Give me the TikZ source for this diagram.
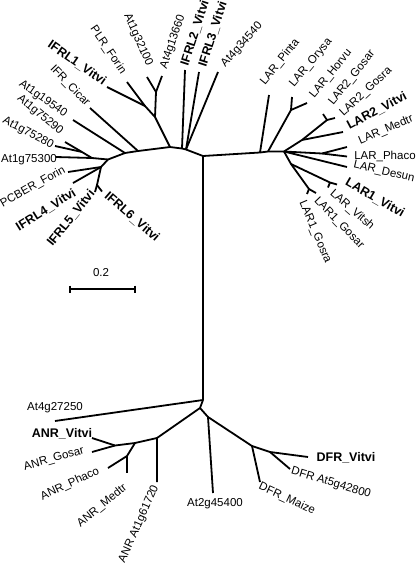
\documentclass[tikz,border=0pt]{standalone}
\usepackage{fontspec}
\setmainfont{Liberation Sans}
\begin{document}
\begin{tikzpicture}[x=1pt,y=-1pt,
  br/.style={line width=1.8pt},
  lab/.style={inner sep=0pt,font=\fontsize{11.5}{13}\selectfont},
  blab/.style={inner sep=0pt,font=\fontsize{12.5}{14}\selectfont\bfseries}]
\useasboundingbox (0,0) rectangle (416,568);
% ---- trunk
\coordinate (A) at (203,156);
\coordinate (B) at (203,400);
% ---- upper left clade
\coordinate (S2) at (186,149.5);
\coordinate (S1) at (182,148.5);
\coordinate (R) at (170,147);
\coordinate (T) at (138,151);
\coordinate (U) at (125,153);
\coordinate (X) at (108,159.5);
\coordinate (Y1) at (101,167);
\coordinate (P) at (155,117);
\coordinate (Q) at (145,106);
\coordinate (Yn) at (156,92);
\coordinate (W) at (92,158);
\coordinate (V) at (82,152);
\coordinate (Z) at (97,185);
\coordinate (tIFRL2) at (185,70);
\coordinate (tIFRL3) at (199,72);
\coordinate (tAt4g34540) at (218,72);
\coordinate (tPLR) at (127,82);
\coordinate (tIFRL1) at (107,87);
\coordinate (tAt1g32100) at (147,77);
\coordinate (tAt4g13660) at (162,76);
\coordinate (tIFR) at (90,108);
\coordinate (tAt1g19540) at (73,120);
\coordinate (tAt1g75290) at (65,142);
\coordinate (tAt1g75280) at (55,146);
\coordinate (tAt1g75300) at (56,157);
\coordinate (tPCBER) at (68,172);
\coordinate (tIFRL4) at (73,183);
\coordinate (tIFRL5) at (95,192);
\coordinate (tIFRL6) at (102,191.5);
% ---- right clade
\coordinate (L1) at (260,152.5);
\coordinate (L2) at (268,151.5);
\coordinate (L3) at (284,151.5);
\coordinate (O) at (291,110);
\coordinate (M1) at (302,140);
\coordinate (Yg) at (327,120);
\coordinate (M2) at (322,153.5);
\coordinate (N1) at (291,164);
\coordinate (Yv) at (330,182.5);
\coordinate (Yr) at (309,189);
\coordinate (tPinta) at (269,95);
\coordinate (tOrysa) at (292,97);
\coordinate (tHorvu) at (307,103);
\coordinate (tGosarB) at (323,114);
\coordinate (tGosraB) at (335,118);
\coordinate (tVitviB) at (343,132);
\coordinate (tMedtr) at (347,147);
\coordinate (tPhaco) at (347,156.5);
\coordinate (tDesun) at (347,167);
\coordinate (tVitviA) at (337,184.5);
\coordinate (tVitsh) at (328,187.5);
\coordinate (tGosarA) at (316,193);
\coordinate (tGosraA) at (307,194);
% ---- bottom clade
\coordinate (C) at (200,408);
\coordinate (N1a) at (157,438);
\coordinate (N2a) at (135,443);
\coordinate (N3a) at (115,445.5);
\coordinate (N4a) at (127,456);
\coordinate (D) at (208,417);
\coordinate (E) at (252,446);
\coordinate (F) at (270,452);
\coordinate (tAt4g27250) at (55,421);
\coordinate (tAt1g61720) at (157,482);
\coordinate (tANRVitvi) at (92,438);
\coordinate (tANRGosar) at (92,452);
\coordinate (tANRPhaco) at (108,468);
\coordinate (tANRMedtr) at (127,473);
\coordinate (tAt2g45400) at (213,493);
\coordinate (tMaize) at (260,482);
\coordinate (tDFRVitvi) at (308,457);
\coordinate (tAt5g42800) at (290,469);
% ---- scale bar
\coordinate (sbL) at (70,289);
\coordinate (sbR) at (135,289);

% ---- branches
\draw[br] (A) -- (B);
\draw[br] (A) -- (S2) -- (S1) -- (R) -- (T) -- (U) -- (X) -- (Y1);
\draw[br] (S1) -- (tIFRL2);
\draw[br] (S2) -- (tIFRL3);
\draw[br] (S2) -- (tAt4g34540);
\draw[br] (R) -- (P) -- (Q) -- (tPLR);
\draw[br] (Q) -- (tIFRL1);
\draw[br] (P) -- (Yn) -- (tAt1g32100);
\draw[br] (Yn) -- (tAt4g13660);
\draw[br] (T) -- (tIFR);
\draw[br] (U) -- (tAt1g19540);
\draw[br] (X) -- (W) -- (tAt1g75300);
\draw[br] (W) -- (V) -- (tAt1g75290);
\draw[br] (V) -- (tAt1g75280);
\draw[br] (Y1) -- (tPCBER);
\draw[br] (Y1) -- (tIFRL4);
\draw[br] (Y1) -- (Z) -- (tIFRL5);
\draw[br] (Z) -- (tIFRL6);
\draw[br] (A) -- (L1) -- (L2) -- (L3);
\draw[br] (L1) -- (tPinta);
\draw[br] (L2) -- (O) -- (tOrysa);
\draw[br] (O) -- (tHorvu);
\draw[br] (L3) -- (M1) -- (Yg) -- (tGosarB);
\draw[br] (Yg) -- (tGosraB);
\draw[br] (M1) -- (tVitviB);
\draw[br] (L3) -- (M2) -- (tPhaco);
\draw[br] (M2) -- (tMedtr);
\draw[br] (L3) -- (tDesun);
\draw[br] (L3) -- (N1) -- (Yr) -- (tGosarA);
\draw[br] (Yr) -- (tGosraA);
\draw[br] (N1) -- (Yv) -- (tVitviA);
\draw[br] (Yv) -- (tVitsh);
\draw[br] (B) -- (tAt4g27250);
\draw[br] (B) -- (C) -- (N1a) -- (tAt1g61720);
\draw[br] (N1a) -- (N2a) -- (N3a) -- (tANRVitvi);
\draw[br] (N3a) -- (tANRGosar);
\draw[br] (N2a) -- (N4a) -- (tANRPhaco);
\draw[br] (N4a) -- (tANRMedtr);
\draw[br] (C) -- (D) -- (tAt2g45400);
\draw[br] (D) -- (E) -- (tMaize);
\draw[br] (E) -- (F) -- (tDFRVitvi);
\draw[br] (F) -- (tAt5g42800);
\draw[br] (sbL) -- (sbR);
\draw[br] ([yshift=3.5pt]sbL) -- ([yshift=-3.5pt]sbL);
\draw[br] ([yshift=3.5pt]sbR) -- ([yshift=-3.5pt]sbR);

% ---- labels
\node[blab,rotate=-35] (lIFRL1) at (77,63) {IFRL1\_Vitvi};
\node[lab,rotate=-56] (lPLR) at (108,50) {PLR\_Forin};
\node[lab,rotate=-66] (lAt1g32100) at (138,40) {At1g32100};
\node[lab,rotate=71] (lAt4g13660) at (173,42) {At4g13660};
\node[blab,rotate=72] (lIFRL2) at (195,33) {IFRL2\_Vitvi};
\node[blab,rotate=72] (lIFRL3) at (213,34) {IFRL3\_Vitvi};
\node[lab,rotate=48] (lAt4g34540) at (242,45) {At4g34540};
\node[lab,rotate=-46] (lIFR) at (70,86) {IFR\_Cicar};
\node[lab,rotate=-35] (lAt1g19540) at (43,99) {At1g19540};
\node[lab,rotate=-40] (lAt1g75290) at (40,115) {At1g75290};
\node[lab,rotate=-28] (lAt1g75280) at (28,133) {At1g75280};
\node[lab] (lAt1g75300) at (29,160) {At1g75300};
\node[lab,rotate=29] (lPCBER) at (33,187) {PCBER\_Forin};
\node[blab,rotate=32] (lIFRL4) at (46,210) {IFRL4\_Vitvi};
\node[blab,rotate=51] (lIFRL5) at (71,218) {IFRL5\_Vitvi};
\node[blab,rotate=-41] (lIFRL6) at (132,217) {IFRL6\_Vitvi};
\node[lab,rotate=51] (lPinta) at (280,62) {LAR\_Pinta};
\node[lab,rotate=50] (lOrysa) at (311,63) {LAR\_Orysa};
\node[lab,rotate=51] (lHorvu) at (331,74) {LAR\_Horvu};
\node[lab,rotate=51] (lGosarB) at (352,78) {LAR2\_Gosar};
\node[lab,rotate=43] (lGosraB) at (366,92) {LAR2\_Gosra};
\node[blab,rotate=28] (lVitviB) at (377,111) {LAR2\_Vitvi};
\node[lab,rotate=23] (lMedtr) at (386,130) {LAR\_Medtr};
\node[lab] (lPhaco) at (385,156) {LAR\_Phaco};
\node[lab,rotate=-13] (lDesun) at (384,172) {LAR\_Desun};
\node[blab,rotate=-30] (lVitviA) at (375,198) {LAR1\_Vitvi};
\node[lab,rotate=-41] (lVitsh) at (352,210) {LAR\_Vitsh};
\node[lab,rotate=-46] (lGosarA) at (339,223) {LAR1\_Gosar};
\node[lab,rotate=-67] (lGosraA) at (315,232) {LAR1\_Gosra};
\node[lab] (lAt4g27250) at (55,408) {At4g27250};
\node[blab] (lANRVitvi) at (62,434) {ANR\_Vitvi};
\node[lab,rotate=16] (lANRGosar) at (54,459) {ANR\_Gosar};
\node[lab,rotate=25] (lANRPhaco) at (70,484) {ANR\_Phaco};
\node[lab,rotate=39] (lANRMedtr) at (102,506) {ANR\_Medtr};
\node[lab,rotate=66] (lAt1g61720) at (139,524) {ANR At1g61720};
\node[lab] (lAt2g45400) at (215,504) {At2g45400};
\node[lab,rotate=-25] (lMaize) at (287,499) {DFR\_Maize};
\node[lab,rotate=-17] (lAt5g42800) at (331,483) {DFR At5g42800};
\node[blab] (lDFRVitvi) at (346,458) {DFR\_Vitvi};
\node[lab] (lScale) at (101,273) {0.2};
\end{tikzpicture}
\end{document}
